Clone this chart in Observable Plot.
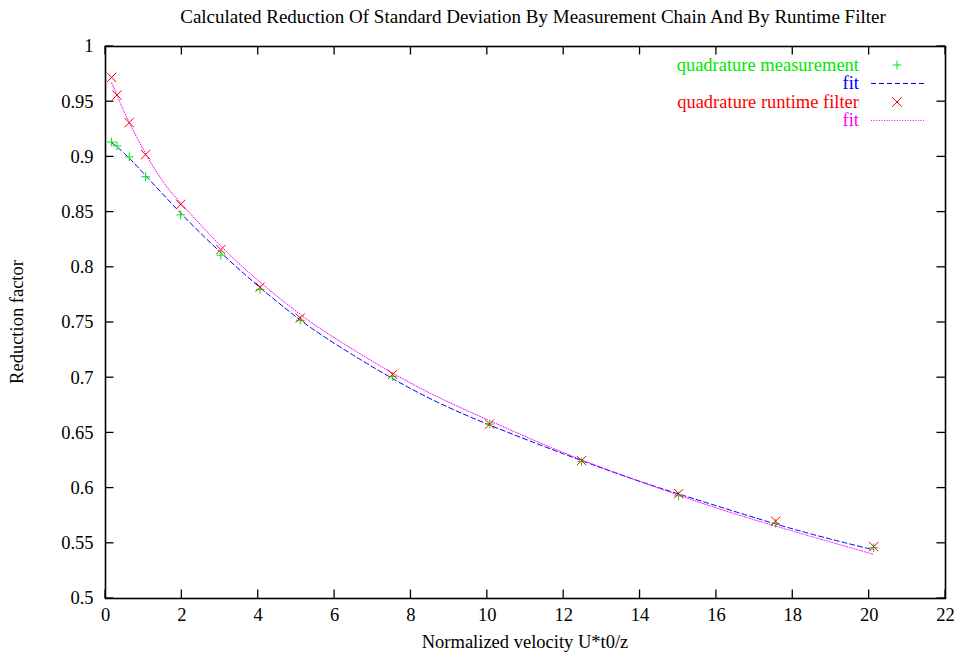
<!DOCTYPE html>
<html>
<head>
<meta charset="utf-8">
<script src="https://cdn.jsdelivr.net/npm/d3@7"></script>
<script src="https://cdn.jsdelivr.net/npm/@observablehq/plot@0.6"></script>
<style>
  html, body { margin: 0; padding: 0; background: #fff; }
  svg { display: block; }
  svg text { font-family: "Liberation Serif", "DejaVu Serif", serif; }
</style>
</head>
<body>
<div id="chart"></div>
<script>
const titleText = "Calculated Reduction Of Standard Deviation By Measurement Chain And By Runtime Filter";
const xLabel = "Normalized velocity U*t0/z";
const yLabel = "Reduction factor";

const xPoints = [0.16, 0.3, 0.62, 1.05, 1.97, 3.02, 4.05, 5.1, 7.52, 10.06, 12.47, 15.01, 17.55, 20.12];
const measY   = [0.9135, 0.910, 0.900, 0.882, 0.8475, 0.811, 0.780, 0.752, 0.701, 0.658, 0.624, 0.593, 0.568, 0.546];
const filterY = [0.972, 0.956, 0.931, 0.902, 0.857, 0.816, 0.782, 0.754, 0.703, 0.658, 0.625, 0.595, 0.570, 0.547];

const fitMeasX = [0.16, 0.5, 1, 2, 3, 4, 5, 6, 8, 10, 12, 14, 16, 18, 20.12];
const fitMeasY = [0.913, 0.903, 0.885, 0.848, 0.814, 0.783, 0.755, 0.731, 0.690, 0.658, 0.631, 0.606, 0.584, 0.563, 0.544];

const fitFiltX = [0.16, 0.3, 0.5, 1, 1.5, 2, 3, 4, 5, 6, 8, 10, 12, 14, 16, 18, 20.12];
const fitFiltY = [0.967, 0.956, 0.940, 0.906, 0.878, 0.857, 0.820, 0.788, 0.760, 0.736, 0.695, 0.662, 0.632, 0.606, 0.582, 0.561, 0.540];

const xTicks = [0, 2, 4, 6, 8, 10, 12, 14, 16, 18, 20, 22];
const yTicks = [0.5, 0.55, 0.6, 0.65, 0.7, 0.75, 0.8, 0.85, 0.9, 0.95, 1];

const legendLabels = ["quadrature measurement", "fit", "quadrature runtime filter", "fit"];
const legendColors = ["#00e600", "#0000ff", "#ff0000", "#ff00ff"];

const meas = xPoints.map((x, i) => ({x, y: measY[i]}));
const filt = xPoints.map((x, i) => ({x, y: filterY[i]}));
const fitM = fitMeasX.map((x, i) => ({x, y: fitMeasY[i]}));
const fitF = fitFiltX.map((x, i) => ({x, y: fitFiltY[i]}));

const font = "Liberation Serif, DejaVu Serif, serif";
const fs = 18.5;

const W = 956, H = 653;
const mL = 105, mR = 11, mT = 46, mB = 55;
const plot = Plot.plot({
  width: W,
  height: H,
  marginLeft: mL,
  marginRight: mR,
  marginTop: mT,
  marginBottom: mB,
  style: {fontFamily: font, fontSize: fs + "px", color: "#000", background: "#fff"},
  x: {domain: [0, 22]},
  y: {domain: [0.5, 1]},
  marks: [
    Plot.axisX({anchor: "bottom", ticks: xTicks, tickSize: 0, tickPadding: 9, label: null, tickFormat: d => String(d), fontSize: fs}),
    Plot.axisY({anchor: "left", ticks: yTicks, tickSize: 0, tickPadding: 12, label: null, tickFormat: d => String(d), fontSize: fs}),
    Plot.line(fitM, {x: "x", y: "y", stroke: legendColors[1], strokeWidth: 1, strokeDasharray: "5,3", curve: "natural"}),
    Plot.line(fitF, {x: "x", y: "y", stroke: legendColors[3], strokeWidth: 1, strokeDasharray: "1,1.6", curve: "natural"}),
    Plot.dot(meas, {x: "x", y: "y", symbol: "plus", r: 2.9, stroke: legendColors[0], strokeWidth: 1}),
    Plot.dot(filt, {x: "x", y: "y", symbol: "times", r: 4.3, stroke: legendColors[2], strokeWidth: 1}),
    Plot.frame({stroke: "#000", strokeWidth: 1.6})
  ]
});
document.getElementById("chart").appendChild(plot);

const svg = d3.select(plot);
const sx = plot.scale("x"), sy = plot.scale("y");
const x0 = mL, x1 = W - mR, y0 = mT, y1 = H - mB;
const tl = 8.5;
const tg = svg.append("g").attr("stroke", "#000").attr("stroke-width", 1.3);
xTicks.forEach(v => {
  const px = sx.apply(v);
  tg.append("line").attr("x1", px).attr("x2", px).attr("y1", y1).attr("y2", y1 - tl);
  tg.append("line").attr("x1", px).attr("x2", px).attr("y1", y0).attr("y2", y0 + tl);
});
yTicks.forEach(v => {
  const py = sy.apply(v);
  tg.append("line").attr("y1", py).attr("y2", py).attr("x1", x0).attr("x2", x0 + tl);
  tg.append("line").attr("y1", py).attr("y2", py).attr("x1", x1).attr("x2", x1 - tl);
});

function txt(x, y, s, anchor, color, size) {
  return svg.append("text")
    .attr("x", x).attr("y", y)
    .attr("text-anchor", anchor)
    .attr("font-family", font).attr("font-size", size || fs).attr("fill", color || "#000")
    .text(s);
}
txt(533, 23, titleText, "middle", "#000", 19);
txt(525, 648, xLabel, "middle");
svg.append("text")
  .attr("transform", "translate(23,322) rotate(-90)")
  .attr("text-anchor", "middle")
  .attr("font-family", font).attr("font-size", fs).attr("fill", "#000")
  .text(yLabel);

// legend
const lg = svg.append("g");
const rowY = [65, 83.5, 102, 120.5];
legendLabels.forEach((t, i) => {
  txt(859, rowY[i], t, "end", legendColors[i]).attr("dy", "0.32em");
});
lg.append("path").attr("transform", `translate(897,${rowY[0]})`)
  .attr("d", d3.symbol(d3.symbolPlus, Math.PI * 2.9 * 2.9)())
  .attr("fill", "none").attr("stroke", legendColors[0]).attr("stroke-width", 1);
lg.append("line").attr("x1", 871).attr("x2", 924).attr("y1", rowY[1]).attr("y2", rowY[1])
  .attr("stroke", legendColors[1]).attr("stroke-dasharray", "5,3").attr("stroke-width", 1);
lg.append("path").attr("transform", `translate(897,${rowY[2]})`)
  .attr("d", d3.symbol(d3.symbolTimes, Math.PI * 4.3 * 4.3)())
  .attr("fill", "none").attr("stroke", legendColors[2]).attr("stroke-width", 1);
lg.append("line").attr("x1", 871).attr("x2", 924).attr("y1", rowY[3]).attr("y2", rowY[3])
  .attr("stroke", legendColors[3]).attr("stroke-dasharray", "1,1.6").attr("stroke-width", 1);
</script>
</body>
</html>
